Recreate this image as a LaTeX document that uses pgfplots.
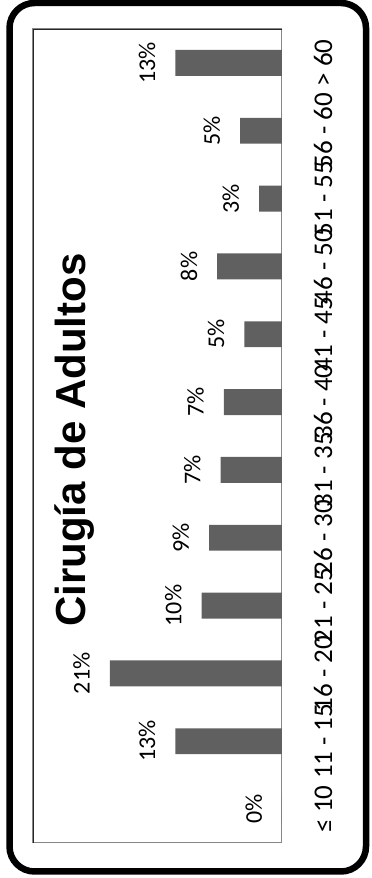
\documentclass[border=0pt]{standalone}
\usepackage{fontspec}
\setmainfont{Carlito}
\newfontfamily\titlefont{Liberation Sans}
\usepackage{pgfplots}
\pgfplotsset{compat=1.18}
\definecolor{barc}{RGB}{96,96,96}
\definecolor{axc}{RGB}{134,134,134}
\begin{document}
\begin{tikzpicture}[x=1pt,y=1pt]
\useasboundingbox (0,0) rectangle (372,878);
\begin{axis}[
  at={(33pt,35pt)}, anchor=south west,
  scale only axis, width=249pt, height=814pt,
  xbar, x dir=reverse,
  xmin=0, xmax=30.37,
  ymin=-0.5, ymax=11.5,
  bar width=0.383,
  axis line style={draw=axc, line width=1pt},
  xtick=\empty,
  ytick={0,...,11},
  yticklabels={{≤ 10},{11 - 15},{16 - 20},{21 - 25},{26 - 30},{31 - 35},{36 - 40},{41 - 45},{46 - 50},{51 - 55},{56 - 60},{> 60}},
  yticklabel pos=right,
  major tick length=0pt,
  /pgf/number format/assume math mode=true,
  yticklabel style={rotate=90, anchor=north, font=\fontsize{27}{30}\selectfont, text height=17pt, text depth=0pt, inner ysep=33pt, inner xsep=0pt},
  nodes near coords={\pgfmathprintnumber[fixed,precision=0,assume math mode=true]{\pgfplotspointmeta}\%},
  point meta=explicit,
  every node near coord/.append style={rotate=90, anchor=south, font=\fontsize{24}{28}\selectfont, text height=15pt, text depth=0pt, inner ysep=20pt, inner xsep=0pt, text=black},
]
\addplot[fill=barc, draw=none] table[x=v, y=i, meta=lab] {
i v lab
0 0 0
1 13.0 13
2 21.0 21
3 9.8 10
4 8.9 9
5 7.5 7
6 7.1 7
7 4.6 5
8 7.9 8
9 2.8 3
10 5.1 5
11 13.0 13
};
\end{axis}
\draw[black!85, line width=0.9pt] (33,35) -- (33,849) -- (282,849);
\node[rotate=90, anchor=base, font=\titlefont\bfseries\fontsize{42}{48}\selectfont] at (85,438) {Cirugía de Adultos};
\draw[line width=6.5pt, rounded corners=25pt] (9.5,6.5) rectangle (366,875);
\end{tikzpicture}
\end{document}
